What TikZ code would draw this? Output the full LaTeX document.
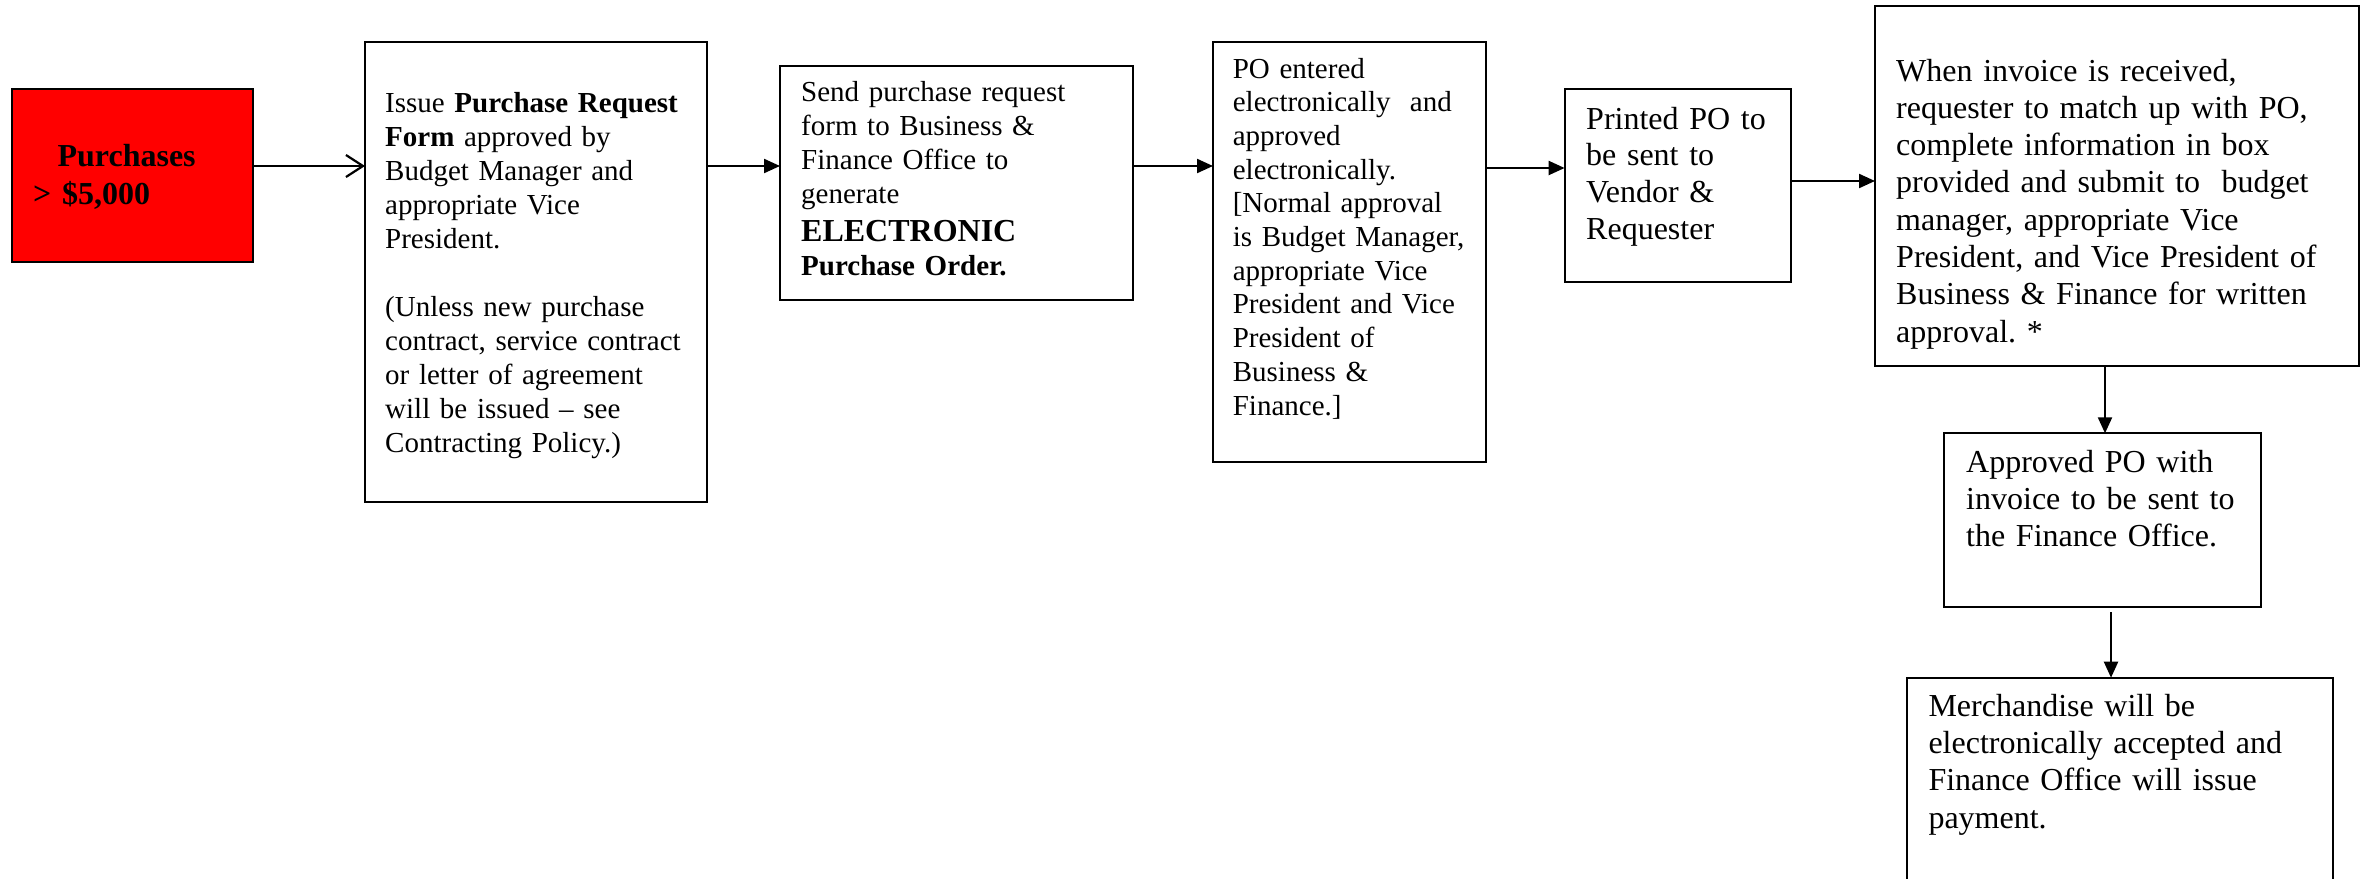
\documentclass[tikz,border=0pt]{standalone}
\usepackage{fontspec}
\setmainfont{Liberation Serif}
\usetikzlibrary{arrows.meta,calc}
\frenchspacing
\begin{document}
\begin{tikzpicture}[x=1pt,y=-1pt,
  box/.style={draw=black,line width=2pt,inner sep=0pt,outer sep=0pt},
  txt/.style={anchor=base west,inner sep=0pt,text width=#1,align=left},
  arr/.style={line width=2.2pt,-{Triangle[length=16pt,width=14pt]}},
  openarr/.style={line width=2.2pt,-{Straight Barb[length=17pt,width=22pt,line width=2.2pt]}}]
\useasboundingbox (0,0) rectangle (2360,878);
\clip (0,0) rectangle (2360,878);
% boxes
\node[box,fill=red,minimum width=241pt,minimum height=173pt] (red) at (132.5,175.5) {};
\node[box,minimum width=342pt,minimum height=460pt] (b2) at (536,271.7) {};
\node[box,minimum width=353pt,minimum height=234.3pt] (b3) at (956.5,182.85) {};
\node[box,minimum width=273pt,minimum height=420pt] (b4) at (1349.5,251.7) {};
\node[box,minimum width=226.4pt,minimum height=193pt] (b5) at (1677.8,185.5) {};
\node[box,minimum width=483.5pt,minimum height=360pt] (b6) at (2116.75,186) {};
\node[box,minimum width=316.7pt,minimum height=174pt] (b7) at (2102.65,520.3) {};
\node[box,minimum width=426.6pt,minimum height=262.3pt] (b8) at (2120,808.85) {};
% texts
\node[txt=210pt,font=\fontsize{32}{37.3}\selectfont\bfseries] (tred) at (33,166.7)
  {\hspace*{24.4pt}Purchases\\> \$5,000};
\node[txt=316pt,font=\fontsize{29}{34}\selectfont] (t2) at (385,112)
  {Issue \textbf{Purchase Request}\\
   \textbf{Form} approved by\\
   Budget Manager and\\
   appropriate Vice\\
   President.\\[34pt]
   (Unless new purchase\\
   contract, service contract\\
   or letter of agreement\\
   will be issued – see\\
   Contracting Policy.)};
\node[txt=320pt,font=\fontsize{29}{34}\selectfont] (t3) at (801,101.7)
  {Send purchase request\\
   form to Business \&\\
   Finance Office to\\
   generate\\[3.7pt]
   {\fontsize{32}{34}\selectfont\bfseries ELECTRONIC}\\
   \textbf{Purchase Order.}};
\node[txt=248pt,font=\fontsize{29}{33.7}\selectfont] (t4) at (1232.6,78)
  {PO entered\\
   electronically\ \ and\\
   approved\\
   electronically.\\
   {[}Normal approval\\
   is Budget Manager,\\
   appropriate Vice\\
   President and Vice\\
   President of\\
   Business \&\\
   Finance.]};
\node[txt=200pt,font=\fontsize{32}{36.7}\selectfont] (t5) at (1586,129)
  {Printed PO to\\be sent to\\Vendor \&\\Requester};
\node[txt=455pt,font=\fontsize{32}{37.3}\selectfont] (t6) at (1896,81)
  {When invoice is received,\\
   requester to match up with PO,\\
   complete information in box\\
   provided and submit to\ \ budget\\
   manager, appropriate Vice\\
   President, and Vice President of\\
   Business \& Finance for written\\
   approval. *};
\node[txt=290pt,font=\fontsize{32}{37.3}\selectfont] (t7) at (1966,472)
  {Approved PO with\\invoice to be sent to\\the Finance Office.};
\node[txt=395pt,font=\fontsize{32}{37.1}\selectfont] (t8) at (1928.3,716.7)
  {Merchandise will be\\electronically accepted and\\Finance Office will issue\\payment.};
% connectors
\draw[openarr] (red.east |- 0,166) -- (b2.west |- 0,166);
\draw[arr] (b2.east |- 0,166) -- (b3.west |- 0,166);
\draw[arr] (b3.east |- 0,166) -- (b4.west |- 0,166);
\draw[arr] (b4.east |- 0,168) -- (b5.west |- 0,168);
\draw[arr] (b5.east |- 0,181) -- (b6.west |- 0,181);
\draw[arr] (b6.south -| 2105,0) -- (b7.north -| 2105,0);
\coordinate (s8) at (2111,612);
\draw[arr] (s8) -- (b8.north -| s8);
\end{tikzpicture}
\end{document}
